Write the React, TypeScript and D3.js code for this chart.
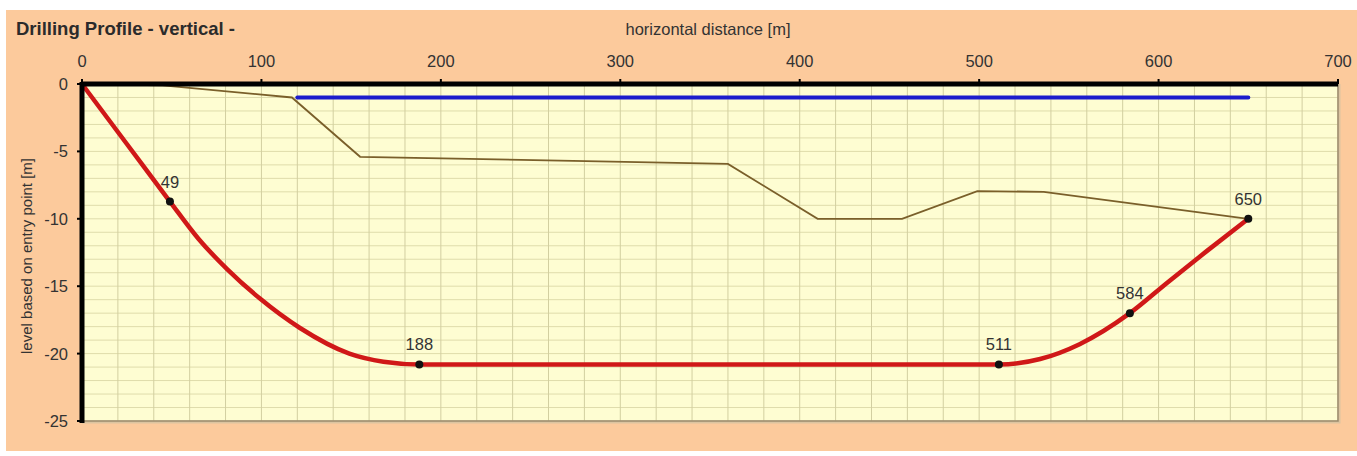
import React from "react";
import * as d3 from "d3";

// values
const xTicks = [0, 100, 200, 300, 400, 500, 600, 700];
const yTicks = [0, -5, -10, -15, -20, -25];

// drill line (horizontal distance, level)
const drillX = [0, 25, 49, 65, 81, 99, 121.5, 149, 168, 188, 511, 534, 556, 584, 605, 627, 650];
const drillY = [0, -4.45, -8.72, -11.5, -13.75, -15.9, -18.1, -20.0, -20.6, -20.8, -20.8, -20.4, -19.3, -17, -14.72, -12.38, -10];

// ground / river bed profile
const terrainX = [0, 45, 117, 155, 360, 410, 457, 499, 536, 650];
const terrainY = [0, -0.1, -1, -5.4, -5.93, -10, -10, -7.94, -8, -10];

// water level
const waterX = [120, 650];
const waterY = [-1, -1];

// labelled stations on the drill line
const stationX = [49, 188, 511, 584, 650];
const stationY = [-8.72, -20.8, -20.8, -17, -10];

const W = 1357;
const H = 456;
const font = "'Liberation Sans', Arial, sans-serif";

export default function App() {
  const x = d3.scaleLinear().domain([0, 700]).range([82, 1338]);
  const y = d3.scaleLinear().domain([0, -25]).range([84, 421]);

  const line = d3
    .line<[number, number]>()
    .x((d) => x(d[0]))
    .y((d) => y(d[1]));
  const smooth = d3
    .line<[number, number]>()
    .x((d) => x(d[0]))
    .y((d) => y(d[1]))
    .curve(d3.curveMonotoneX);

  const drill = drillX.map((v, i) => [v, drillY[i]] as [number, number]);
  const terrain = terrainX.map((v, i) => [v, terrainY[i]] as [number, number]);
  const water = waterX.map((v, i) => [v, waterY[i]] as [number, number]);

  const vGrid = d3.range(20, 700, 20);
  const hGrid = d3.range(-1, -25, -1);

  return (
    <svg
      width={W}
      height={H}
      style={{ position: "absolute", left: 0, top: 0, fontFamily: font }}
    >
      <rect x={0} y={0} width={W} height={H} fill="#fff" />
      <rect x={6} y={10} width={W - 6} height={441} fill="#fcca9c" />

      <text x={16} y={35} fontSize={18.5} fontWeight="bold" fill="#2b2b2b">
        Drilling Profile - vertical -
      </text>
      <text x={708} y={35} fontSize={16.5} textAnchor="middle" fill="#333">
        horizontal distance [m]
      </text>

      {/* plot area */}
      <rect x={x(0)} y={y(0)} width={x(700) - x(0)} height={y(-25) - y(0)} fill="#fefdd2" />
      {hGrid.map((v) => (
        <line key={"h" + v} x1={x(0)} x2={x(700)} y1={y(v)} y2={y(v)} stroke="#dfdcab" strokeWidth={1} />
      ))}
      {vGrid.map((v) => (
        <line key={"v" + v} x1={x(v)} x2={x(v)} y1={y(0)} y2={y(-25)} stroke="#d2cfa0" strokeWidth={1} />
      ))}
      <path
        d={`M${x(0)},${y(-25) + 1}H${x(700) + 1}V${y(0)}`}
        fill="none"
        stroke="#dcc4a0"
        strokeWidth={3}
      />
      <path
        d={`M${x(0)},${y(-25)}H${x(700)}V${y(0)}`}
        fill="none"
        stroke="#9a8a6c"
        strokeWidth={1.5}
      />

      {/* series */}
      <path d={line(terrain) || ""} fill="none" stroke="#7a5f2a" strokeWidth={1.8} />
      <path d={line(water) || ""} fill="none" stroke="#1c1ccc" strokeWidth={4} strokeLinecap="round" />
      <path d={smooth(drill) || ""} fill="none" stroke="#d01818" strokeWidth={4.5} strokeLinecap="round" />

      {/* axes */}
      <line x1={x(0)} x2={x(700)} y1={y(0)} y2={y(0)} stroke="#000" strokeWidth={5} />
      <line x1={x(0)} x2={x(0)} y1={y(0) - 2} y2={y(-25) + 2} stroke="#000" strokeWidth={5} />
      {xTicks.map((t) => (
        <g key={"xt" + t}>
          <line x1={x(t)} x2={x(t)} y1={y(0) - 5} y2={y(0)} stroke="#000" strokeWidth={2} />
          <text x={x(t)} y={67} fontSize={16.5} textAnchor="middle" fill="#333">
            {t}
          </text>
        </g>
      ))}
      {yTicks.map((t) => (
        <g key={"yt" + t}>
          <line x1={x(0) - 5} x2={x(0)} y1={y(t)} y2={y(t)} stroke="#000" strokeWidth={2} />
          <text x={68} y={y(t) + 6} fontSize={16.5} textAnchor="end" fill="#333">
            {t}
          </text>
        </g>
      ))}
      <text
        transform={`translate(32,256) rotate(-90)`}
        fontSize={15}
        textAnchor="middle"
        fill="#333"
      >
        level based on entry point  [m]
      </text>

      {/* stations */}
      {stationX.map((s, i) => (
        <g key={"s" + s}>
          <circle cx={x(s)} cy={y(stationY[i])} r={4} fill="#111" />
          <text x={x(s)} y={y(stationY[i]) - 14} fontSize={16.5} textAnchor="middle" fill="#333">
            {s}
          </text>
        </g>
      ))}
    </svg>
  );
}
